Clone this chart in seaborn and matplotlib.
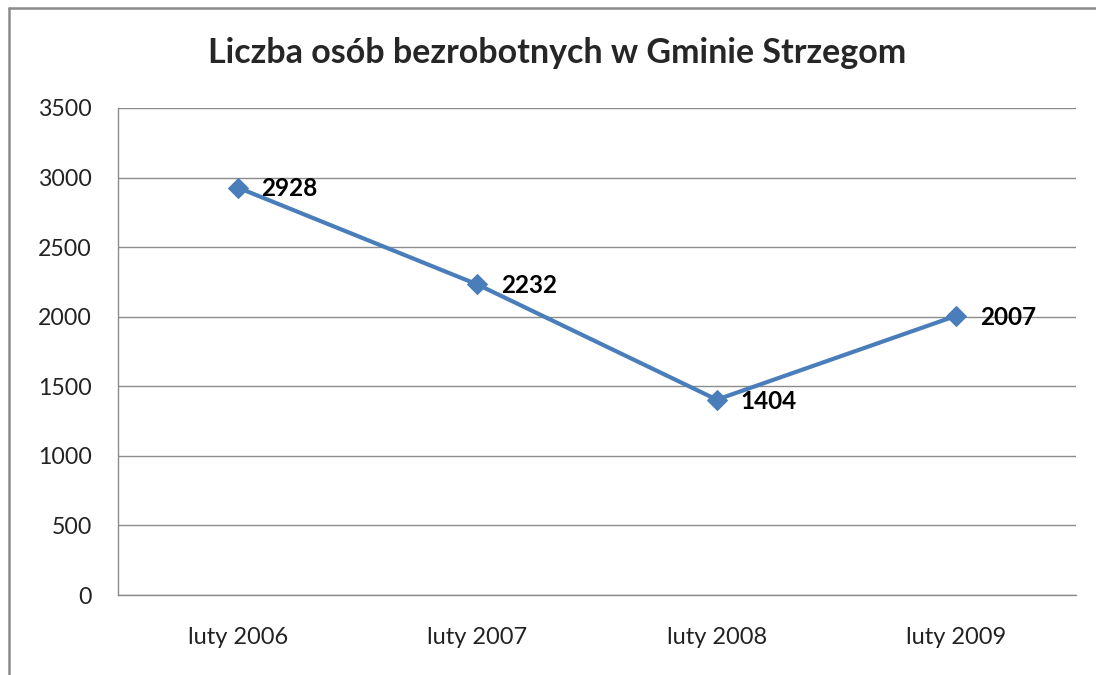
import pandas as pd
import seaborn as sns
import matplotlib.pyplot as plt
from matplotlib.lines import Line2D

# data
periods = ['luty 2006', 'luty 2007', 'luty 2008', 'luty 2009']
unemployed = [2928, 2232, 1404, 2007]
y_ticks = [0, 500, 1000, 1500, 2000, 2500, 3000, 3500]

df = pd.DataFrame({'okres': periods, 'liczba': unemployed})

sns.set_style('white')
plt.rcParams['font.family'] = ['Lato', 'DejaVu Sans']

fig = plt.figure(figsize=(10.96, 6.75), dpi=100)
ax = fig.add_axes([0.1077, 0.1185, 0.8741, 0.7215])

sns.lineplot(data=df, x='okres', y='liczba', ax=ax, sort=False,
             color='#4A7EBB', linewidth=3, marker='D', markersize=10,
             markeredgecolor='#4A7EBB')

ax.set_xlim(-0.5, len(periods) - 0.5)
ax.set_ylim(0, 3500)
ax.set_yticks(y_ticks)
ax.set_xlabel('')
ax.set_ylabel('')
ax.grid(axis='y', color='#8C8C8C', linewidth=1)
ax.set_axisbelow(True)
for side in ['top', 'right']:
    ax.spines[side].set_visible(False)
for side in ['left', 'bottom']:
    ax.spines[side].set_color('#8C8C8C')
    ax.spines[side].set_linewidth(1)
ax.tick_params(axis='y', length=0, pad=19, labelsize=16.7, labelcolor='#222222')
ax.tick_params(axis='x', length=0, pad=23, labelsize=17, labelcolor='#222222')

# data labels right of each point
for i, v in enumerate(unemployed):
    ax.annotate(str(v), (i, v), xytext=(17, -1), textcoords='offset points',
                ha='left', va='center', fontsize=17.5, fontweight='bold',
                color='black')

fig.text(0.508, 0.922, 'Liczba osób bezrobotnych w Gminie Strzegom',
         ha='center', va='center', fontsize=24.5, fontweight='bold')

# outer chart frame (only top and left edges are visible)
fig.add_artist(Line2D([9 / 1096, 1.0], [1 - 8 / 675, 1 - 8 / 675],
                      transform=fig.transFigure, color='#8A8A8A', linewidth=1.8))
fig.add_artist(Line2D([9 / 1096, 9 / 1096], [0.0, 1 - 8 / 675],
                      transform=fig.transFigure, color='#8A8A8A', linewidth=1.8))

fig.savefig('out.png', dpi=100)
